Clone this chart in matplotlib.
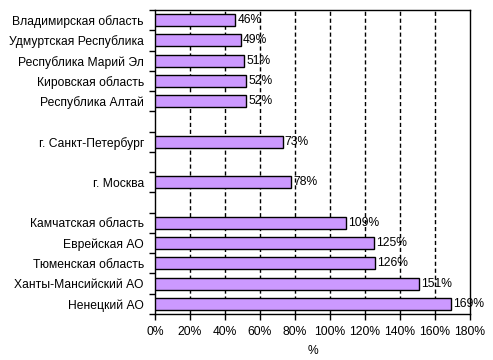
import matplotlib.pyplot as plt
import numpy as np

plt.rcParams['font.family'] = ['Liberation Sans', 'DejaVu Sans']

# rows from top to bottom, '' marks an empty row
regions = ['Владимирская область', 'Удмуртская Республика', 'Республика Марий Эл',
           'Кировская область', 'Республика Алтай', '',
           'г. Санкт-Петербург', '',
           'г. Москва', '',
           'Камчатская область', 'Еврейская АО', 'Тюменская область',
           'Ханты-Мансийский АО', 'Ненецкий АО']
values = [46, 49, 51, 52, 52, None,
          73, None,
          78, None,
          109, 125, 126, 151, 169]
xticks = [0, 20, 40, 60, 80, 100, 120, 140, 160, 180]

fs = 8.7
fig = plt.figure(figsize=(4.93, 3.60), dpi=100)
ax = fig.add_axes([0.3144, 0.1278, 0.6389, 0.8444])

pos = np.arange(len(regions))
for p, v in zip(pos, values):
    if v is None:
        continue
    ax.barh(p, v, height=0.6, color='#CC99FF', edgecolor='black', linewidth=1, zorder=3)
    ax.text(v + 1.2, p, f'{v}%', va='center', ha='left', fontsize=fs, zorder=4)

ax.set_xlim(0, 180)
ax.set_ylim(len(regions) - 0.5, -0.5)
ax.set_xticks(xticks)
ax.set_xticklabels([f'{t}%' for t in xticks], fontsize=fs)
ax.set_yticks(pos)
ax.set_yticklabels(regions, fontsize=fs)
ax.tick_params(axis='y', which='major', length=0, pad=8)
ax.set_yticks(np.arange(len(regions) + 1) - 0.5, minor=True)
ax.tick_params(axis='y', which='minor', length=4, width=1)
ax.tick_params(axis='x', length=4, width=1, pad=5)

for t in xticks[1:-1]:
    ax.axvline(t, color='black', linestyle=(0, (3, 2)), linewidth=1, zorder=1)

for s in ax.spines.values():
    s.set_linewidth(1)

ax.set_xlabel('%', fontsize=fs, labelpad=5)

fig.savefig('out.png', dpi=100)
